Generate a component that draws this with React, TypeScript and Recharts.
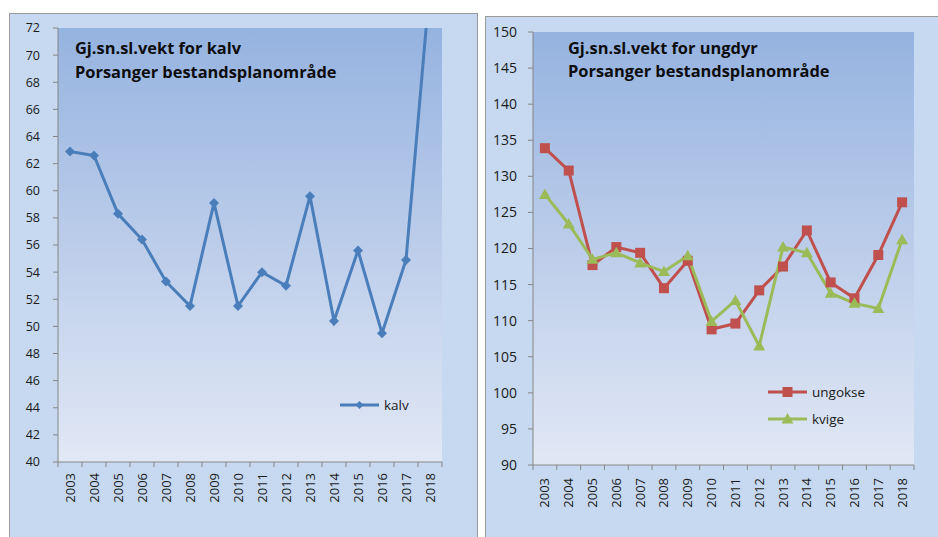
import React from 'react';
import { LineChart, Line, XAxis, YAxis, CartesianGrid, Legend } from 'recharts';

const years = ['2003','2004','2005','2006','2007','2008','2009','2010','2011','2012','2013','2014','2015','2016','2017','2018'];
const kalv = [62.9, 62.6, 58.3, 56.4, 53.3, 51.5, 59.1, 51.5, 54.0, 53.0, 59.6, 50.4, 55.6, 49.5, 54.9, 75.3];
const ungokse = [133.9, 130.8, 117.7, 120.2, 119.4, 114.5, 118.3, 108.8, 109.6, 114.2, 117.5, 122.5, 115.3, 113.1, 119.1, 126.4];
const kvige = [127.5, 123.4, 118.5, 119.4, 118.0, 116.8, 119.0, 109.9, 112.8, 106.5, 120.2, 119.4, 113.8, 112.4, 111.7, 121.2];
const kalvTicks = [40,42,44,46,48,50,52,54,56,58,60,62,64,66,68,70,72];
const ungTicks = [90,95,100,105,110,115,120,125,130,135,140,145,150];

const dataL = years.map((y, i) => ({ year: y, kalv: kalv[i] }));
const dataR = years.map((y, i) => ({ year: y, ungokse: ungokse[i], kvige: kvige[i] }));

const FONT = '"Open Sans", "Noto Sans", sans-serif';
const AXIS = '#868686';
const BLUE = '#4a7ebb';
const RED = '#c0504d';
const GREEN = '#9bbb59';
const PANEL = '#c6d9f0';

const Diamond = (p: any) => {
  const { cx, cy, index } = p;
  if (cx == null || cy == null) return <g key={index} />;
  return <path key={index} d={`M${cx},${cy - 5}L${cx + 5},${cy}L${cx},${cy + 5}L${cx - 5},${cy}Z`} fill={BLUE} />;
};
const Square = (p: any) => {
  const { cx, cy, index } = p;
  if (cx == null || cy == null) return <g key={index} />;
  return <rect key={index} x={cx - 5} y={cy - 5} width={10} height={10} fill={RED} />;
};
const Triangle = (p: any) => {
  const { cx, cy, index } = p;
  if (cx == null || cy == null) return <g key={index} />;
  return <path key={index} d={`M${cx},${cy - 6}L${cx + 6},${cy + 4.5}L${cx - 6},${cy + 4.5}Z`} fill={GREEN} />;
};

const makeXTick = (bw: number, gap: number, n: number) => (props: any) => {
  const { x, y, payload, index } = props;
  const ay = y - 5;
  return (
    <g>
      <line x1={x - bw / 2} y1={ay} x2={x - bw / 2} y2={ay + 5} stroke={AXIS} />
      {index === n - 1 ? <line x1={x + bw / 2} y1={ay} x2={x + bw / 2} y2={ay + 5} stroke={AXIS} /> : null}
      <text
        transform={`translate(${x + 4.5},${ay + gap}) rotate(-90)`}
        textAnchor="end"
        fontSize={13}
        fontFamily={FONT}
        fill="#1a1a1a"
      >
        {payload.value}
      </text>
    </g>
  );
};

const legendContent = (items: { name: string; color: string; shape: string }[]) => () => (
  <svg width={130} height={items.length * 27} style={{ overflow: 'visible' }}>
    {items.map((it, i) => {
      const cy = 10 + i * 27;
      const cx = 19.5;
      return (
        <g key={it.name}>
          <line x1={0} y1={cy} x2={39} y2={cy} stroke={it.color} strokeWidth={3} />
          {it.shape === 'diamond' ? (
            <path d={`M${cx},${cy - 4}L${cx + 4},${cy}L${cx},${cy + 4}L${cx - 4},${cy}Z`} fill={it.color} />
          ) : it.shape === 'square' ? (
            <rect x={cx - 5} y={cy - 5} width={10} height={10} fill={it.color} />
          ) : (
            <path d={`M${cx},${cy - 6}L${cx + 6},${cy + 4.5}L${cx - 6},${cy + 4.5}Z`} fill={it.color} />
          )}
          <text x={44} y={cy} dy="0.36em" fontSize={13.5} fontFamily={FONT} fill="#1a1a1a">{it.name}</text>
        </g>
      );
    })}
  </svg>
);

const titleStyle: React.CSSProperties = {
  position: 'absolute',
  fontFamily: FONT,
  fontWeight: 700,
  fontSize: 16.4,
  lineHeight: '23.5px',
  color: '#0d0d0d',
  whiteSpace: 'nowrap',
  pointerEvents: 'none',
};

export default function App() {
  return (
    <div style={{ position: 'absolute', left: 0, top: 0, width: 938, height: 537, overflow: 'hidden', background: '#fff' }}>
      {/* Left panel */}
      <div style={{ position: 'absolute', left: 9, top: 13, width: 469, height: 560, boxSizing: 'border-box', border: '1px solid #9a9a9a', background: PANEL }}>
        <div style={{ position: 'absolute', left: 0, top: 0 }}>
          <LineChart width={467} height={520} data={dataL} margin={{ top: 14, right: 35, left: 0, bottom: 12 }}>
            <defs>
              <linearGradient id="gradL" x1="0" y1="0" x2="0" y2="1">
                <stop offset="0%" stopColor="#95b3e0" />
                <stop offset="50%" stopColor="#bccdea" />
                <stop offset="100%" stopColor="#e1e8f5" />
              </linearGradient>
            </defs>
            <CartesianGrid horizontal={false} vertical={false} fill="url(#gradL)" stroke="none" />
            <XAxis
              dataKey="year"
              height={60}
              padding={{ left: 12, right: 12 }}
              axisLine={{ stroke: AXIS }}
              tickLine={false}
              tickSize={5}
              tickMargin={0}
              interval={0}
              tick={makeXTick(23.98, 11, years.length)}
            />
            <YAxis
              width={48}
              domain={[40, 72]}
              ticks={kalvTicks}
              allowDataOverflow
              interval={0}
              axisLine={{ stroke: AXIS }}
              tickLine={{ stroke: AXIS }}
              tickSize={5}
              tickMargin={13}
              tick={{ fontSize: 12.5, fontFamily: FONT, fill: '#1a1a1a' }}
            />
            <Legend
              layout="horizontal"
              verticalAlign="middle"
              align="center"
              wrapperStyle={{ position: 'absolute', left: 330, top: 381, width: 130, height: 30 }}
              content={legendContent([{ name: 'kalv', color: BLUE, shape: 'diamond' }])}
            />
            <Line dataKey="kalv" name="kalv" stroke={BLUE} strokeWidth={3} dot={Diamond} activeDot={false} isAnimationActive={false} />
          </LineChart>
        </div>
        <div style={{ ...titleStyle, left: 65, top: 22 }}>
          Gj.sn.sl.vekt for kalv<br />Porsanger bestandsplanområde
        </div>
      </div>

      {/* Right panel */}
      <div style={{ position: 'absolute', left: 485, top: 16, width: 472, height: 560, boxSizing: 'border-box', border: '1px solid #9a9a9a', background: PANEL }}>
        <div style={{ position: 'absolute', left: 0, top: 0 }}>
          <LineChart width={470} height={520} data={dataR} margin={{ top: 15, right: 42, left: 0, bottom: 12 }}>
            <defs>
              <linearGradient id="gradR" x1="0" y1="0" x2="0" y2="1">
                <stop offset="0%" stopColor="#95b3e0" />
                <stop offset="50%" stopColor="#bccdea" />
                <stop offset="100%" stopColor="#e1e8f5" />
              </linearGradient>
            </defs>
            <CartesianGrid horizontal={false} vertical={false} fill="url(#gradR)" stroke="none" />
            <XAxis
              dataKey="year"
              height={60}
              padding={{ left: 11.9, right: 11.9 }}
              axisLine={{ stroke: AXIS }}
              tickLine={false}
              tickSize={5}
              tickMargin={0}
              interval={0}
              tick={makeXTick(23.8, 13, years.length)}
            />
            <YAxis
              width={47}
              domain={[90, 150]}
              ticks={ungTicks}
              allowDataOverflow
              interval={0}
              axisLine={{ stroke: AXIS }}
              tickLine={{ stroke: AXIS }}
              tickSize={5}
              tickMargin={11}
              tick={{ fontSize: 14, fontFamily: FONT, fill: '#1a1a1a' }}
            />
            <Legend
              layout="horizontal"
              verticalAlign="middle"
              align="center"
              wrapperStyle={{ position: 'absolute', left: 282, top: 365, width: 130, height: 60 }}
              content={legendContent([
                { name: 'ungokse', color: RED, shape: 'square' },
                { name: 'kvige', color: GREEN, shape: 'triangle' },
              ])}
            />
            <Line dataKey="ungokse" name="ungokse" stroke={RED} strokeWidth={3} dot={Square} activeDot={false} isAnimationActive={false} />
            <Line dataKey="kvige" name="kvige" stroke={GREEN} strokeWidth={3} dot={Triangle} activeDot={false} isAnimationActive={false} />
          </LineChart>
        </div>
        <div style={{ ...titleStyle, left: 82, top: 18.5 }}>
          Gj.sn.sl.vekt for ungdyr<br />Porsanger bestandsplanområde
        </div>
      </div>
    </div>
  );
}
